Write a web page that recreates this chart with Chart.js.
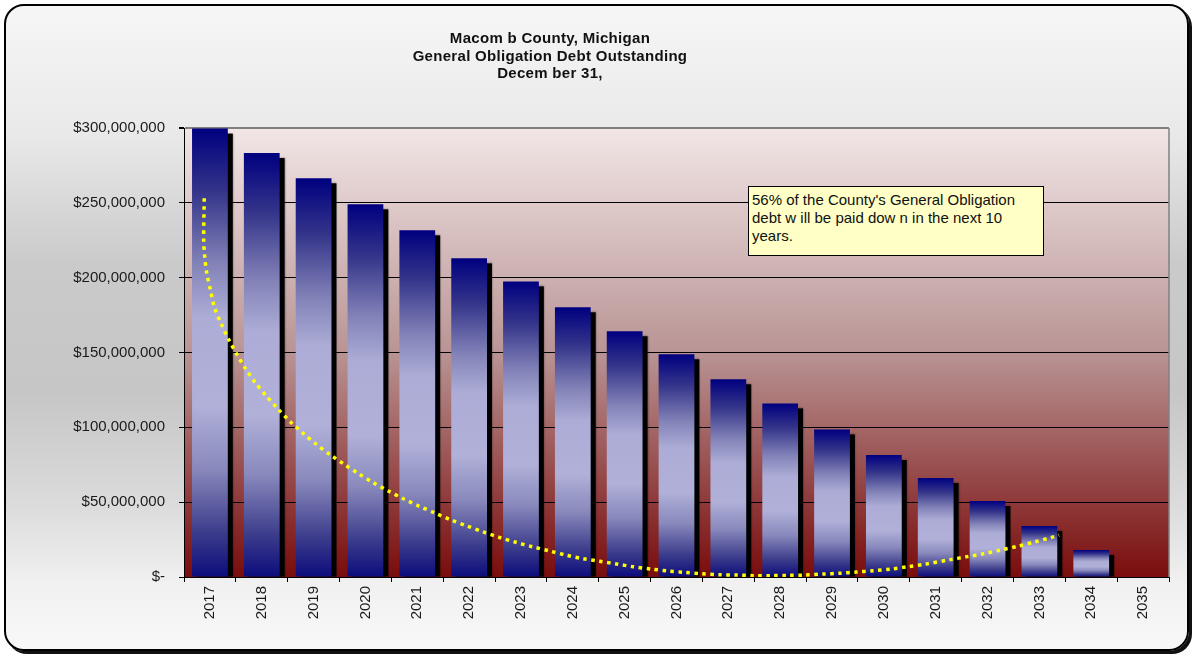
<!DOCTYPE html>
<html lang="en">
<head>
  <meta charset="UTF-8" />
  <title>General Obligation Debt Outstanding</title>
  <script src="https://cdn.jsdelivr.net/npm/chart.js"></script>
  <style>
    body { margin: 0; width: 1194px; height: 656px; overflow: hidden; background: #fff; position: relative; font-family: "Liberation Sans", Arial, sans-serif; }
    #frame {
      position: absolute; left: 4px; top: 4px; width: 1185px; height: 647px; box-sizing: border-box;
      border: 2px solid #000; border-radius: 20px; box-shadow: 3px 3px 0 #111;
      background: linear-gradient(to bottom, #f6f6f6 0%, #e9e9e9 20%, #cacaca 40%, #c6c6c6 60%, #dcdcdc 78%, #f1f1f1 90%, #f8f8f8 100%);
    }
    #title {
      position: absolute; left: 300px; width: 500px; top: 29px; text-align: center;
      font-weight: bold; font-size: 15px; line-height: 17.5px; color: #111; letter-spacing: 0.3px;
    }
    #note {
      position: absolute; left: 748px; top: 186px; width: 296px; height: 70px; box-sizing: border-box;
      border: 1px solid #000; background: #ffffc6; padding: 4px 0 0 3px;
      font-size: 15px; line-height: 18px; color: #111;
    }
    canvas { position: absolute; left: 0; top: 0; }
  </style>
</head>
<body>
  <div id="frame"></div>
  <canvas id="debtChart" width="1194" height="656"></canvas>
  <canvas id="trendChart" width="1194" height="656"></canvas>
  <div id="title">Macom b County, Michigan<br>General Obligation Debt Outstanding<br>Decem ber 31,</div>
  <div id="note">56% of the County's General Obligation<br>debt w ill be paid dow n in the next 10<br>years.</div>

  <script>
    const years = ["2017", "2018", "2019", "2020", "2021", "2022", "2023", "2024", "2025", "2026",
      "2027", "2028", "2029", "2030", "2031", "2032", "2033", "2034", "2035"];
    const debtOutstanding = [299600000, 283300000, 266400000, 249000000, 231600000, 212900000, 197500000,
      180200000, 164200000, 148800000, 132100000, 116000000, 98600000, 81500000, 66100000, 50800000,
      34000000, 18000000, 0];
    const yTicks = [0, 50000000, 100000000, 150000000, 200000000, 250000000, 300000000];

    // trendline: position in category units (0 = 2017) and value in $M
    const trendPos = [-0.11, -0.12, -0.10, -0.06, 0.01, 0.09, 0.22, 0.36, 0.52, 0.69, 0.88, 1.10, 1.32, 1.55,
      1.80, 2.05, 2.32, 2.59, 2.87, 3.15, 3.44, 3.73, 4.03, 4.34, 4.65, 4.96, 5.27, 5.58, 5.90, 6.22, 6.55,
      6.88, 7.20, 7.52, 7.84, 8.16, 8.52, 8.84, 9.16, 9.48, 9.83, 10.16, 10.48, 10.83, 11.15, 11.48, 11.83,
      12.15, 12.47, 12.79, 13.15, 13.47, 13.79, 14.28, 14.61, 14.93, 15.25, 15.58, 15.90, 16.22, 16.38];
    const trendValM = [253.0, 225.2, 214.0, 202.9, 191.8, 179.9, 169.0, 158.8, 148.8, 139.0, 129.6, 120.5,
      112.0, 103.8, 96.0, 88.7, 81.7, 75.3, 69.0, 63.0, 57.5, 52.3, 47.4, 42.8, 38.1, 34.1, 30.1, 26.5, 23.2,
      20.2, 17.4, 14.5, 12.2, 10.5, 8.7, 6.9, 5.3, 4.0, 3.1, 2.2, 1.5, 1.3, 0.9, 0.9, 1.1, 1.3, 2.0, 2.5, 3.3,
      4.2, 5.3, 6.9, 8.5, 11.6, 13.6, 15.6, 18.0, 20.5, 23.4, 26.3, 27.9];

    const trendPoints = trendPos.map((p, i) => ({ x: p, y: trendValM[i] * 1000000 }));

    function barGradient(context) {
      const chart = context.chart;
      const { ctx, chartArea, scales } = chart;
      if (!chartArea) return "#6a6aa8";
      const top = scales.y.getPixelForValue(context.raw);
      const bottom = scales.y.getPixelForValue(0);
      if (bottom - top < 1) return "#000080";
      const g = ctx.createLinearGradient(0, top, 0, bottom);
      g.addColorStop(0, "#000080");
      g.addColorStop(0.14, "#34348a");
      g.addColorStop(0.3, "#8282b8");
      g.addColorStop(0.42, "#acacd6");
      g.addColorStop(0.62, "#b0b0d9");
      g.addColorStop(0.76, "#8888bc");
      g.addColorStop(0.9, "#3c3c8c");
      g.addColorStop(1, "#0c0c7c");
      return g;
    }

    const plotBackground = {
      id: "plotBackground",
      beforeDraw(chart) {
        const { ctx, chartArea: a } = chart;
        const g = ctx.createLinearGradient(0, a.top, 0, a.bottom);
        g.addColorStop(0, "#f2e6e6");
        g.addColorStop(0.5, "#b99494");
        g.addColorStop(1, "#7a0c0c");
        ctx.save();
        ctx.fillStyle = g;
        ctx.fillRect(a.left, a.top, a.right - a.left, a.bottom - a.top);
        ctx.restore();
      }
    };

    const barShadow = {
      id: "barShadow",
      beforeDatasetsDraw(chart) {
        const { ctx, chartArea: a } = chart;
        const meta = chart.getDatasetMeta(0);
        ctx.save();
        ctx.beginPath();
        ctx.rect(a.left, a.top, a.right - a.left, a.bottom - a.top);
        ctx.clip();
        ctx.fillStyle = "#000";
        ctx.shadowColor = "rgba(0,0,0,0.45)";
        ctx.shadowBlur = 2;
        meta.data.forEach(el => {
          if (el.base - el.y < 2) return;
          ctx.fillRect(el.x - el.width / 2 + 5, el.y + 5, el.width, el.base - el.y - 5);
        });
        ctx.restore();
      }
    };

    const plotBorder = {
      id: "plotBorder",
      afterDraw(chart) {
        const { ctx, chartArea: a } = chart;
        ctx.save();
        ctx.strokeStyle = "#808080";
        ctx.lineWidth = 1.5;
        ctx.beginPath();
        ctx.moveTo(a.right, a.top);
        ctx.lineTo(a.right, a.bottom);
        ctx.stroke();
        ctx.restore();
      }
    };

    new Chart(document.getElementById("debtChart"), {
      type: "bar",
      data: {
        labels: years,
        datasets: [{
          label: "Debt Outstanding",
          data: debtOutstanding,
          backgroundColor: barGradient,
          barPercentage: 0.69,
          categoryPercentage: 1
        }]
      },
      options: {
        responsive: false,
        animation: false,
        layout: { padding: { left: 0, right: 25, top: 128, bottom: 0 } },
        plugins: {
          legend: { display: false },
          tooltip: { enabled: false },
          title: { display: false }
        },
        scales: {
          x: {
            offset: true,
            grid: { display: true, drawOnChartArea: false, tickLength: 5, tickColor: "#000", offset: true },
            border: { color: "#000", width: 1 },
            ticks: {
              minRotation: 90, maxRotation: 90, padding: 4,
              color: "#1a1a1a", font: { family: "Liberation Sans", size: 15 }
            },
            afterFit(scale) { scale.height = 79; }
          },
          y: {
            min: 0,
            max: 300000000,
            afterBuildTicks(scale) { scale.ticks = yTicks.map(v => ({ value: v })); },
            grid: {
              color: ctx => (ctx.tick && ctx.tick.value === 300000000 ? "#808080" : "#000"),
              lineWidth: ctx => (ctx.tick && ctx.tick.value === 300000000 ? 2 : 1),
              tickLength: 5,
              tickColor: "#000"
            },
            border: { color: "#000", width: 1 },
            ticks: {
              padding: 14,
              color: "#1a1a1a",
              font: { family: "Liberation Sans", size: 15 },
              callback: v => (v === 0 ? "$-" : "$" + v.toLocaleString("en-US"))
            },
            afterFit(scale) { scale.width = 184; }
          }
        }
      },
      plugins: [plotBackground, barShadow, plotBorder]
    });

    // overlay chart for the dotted trendline, same plot area as the bar chart
    new Chart(document.getElementById("trendChart"), {
      type: "scatter",
      data: {
        datasets: [{
          label: "Trend",
          data: trendPoints,
          showLine: true,
          borderColor: "#ffff00",
          borderWidth: 3.5,
          borderDash: [3.5, 4.5],
          borderCapStyle: "butt",
          pointRadius: 0,
          tension: 0.3,
          fill: false
        }]
      },
      options: {
        responsive: false,
        animation: false,
        layout: { padding: { left: 184, right: 25, top: 128, bottom: 79 } },
        plugins: { legend: { display: false }, tooltip: { enabled: false } },
        scales: {
          x: { type: "linear", display: false, min: -0.5, max: 18.5 },
          y: { type: "linear", display: false, min: 0, max: 300000000 }
        }
      }
    });
  </script>
</body>
</html>
